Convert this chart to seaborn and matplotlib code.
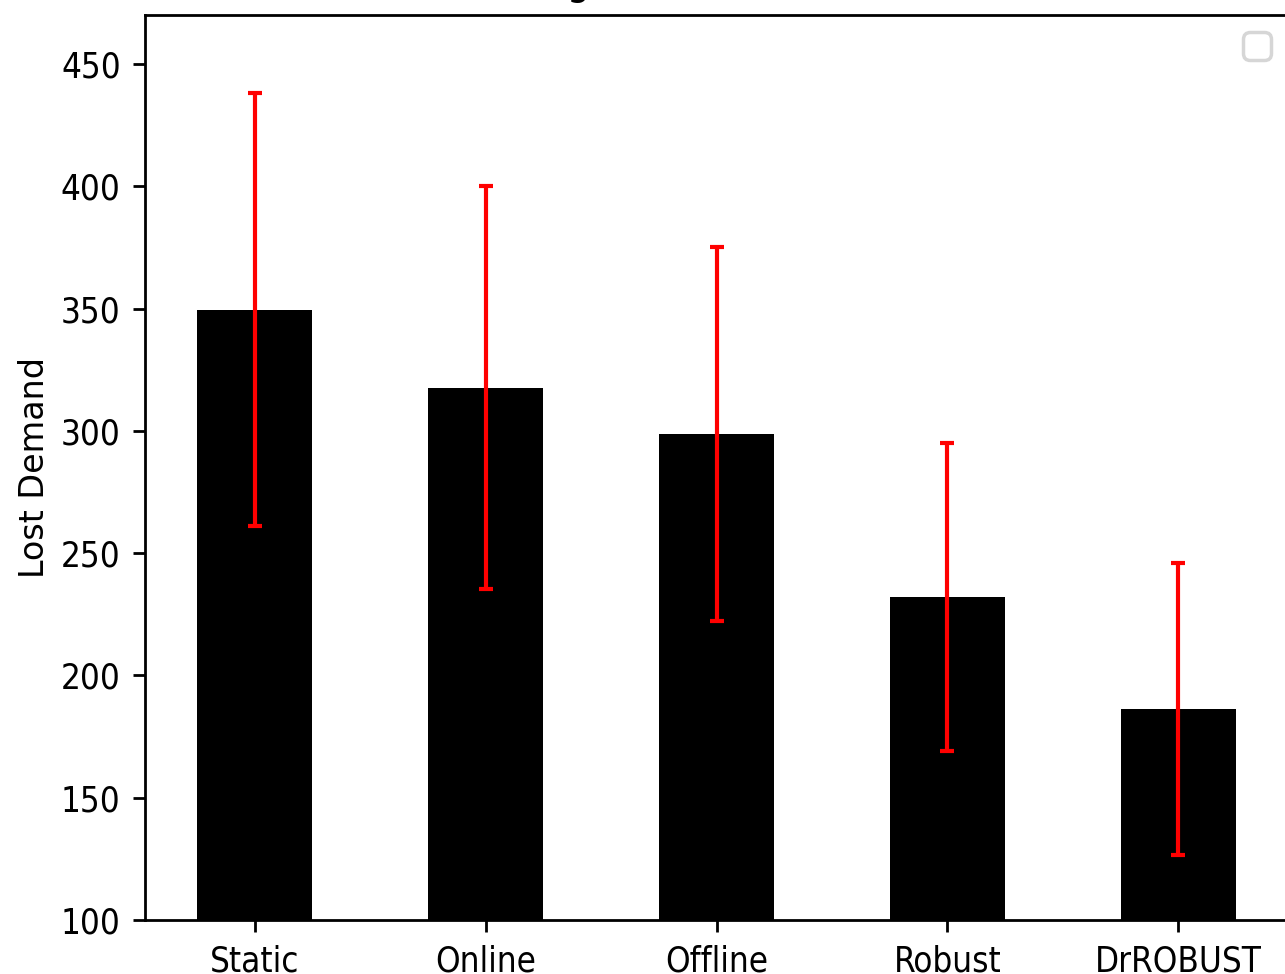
import matplotlib
matplotlib.use("Agg")
import matplotlib.pyplot as plt
import seaborn as sns
import pandas as pd

# Lost demand per policy: mean and standard deviation
policies = ["Static", "Online", "Offline", "Robust", "DrROBUST"]
mean_lost = [349.5, 317.7, 298.6, 232.0, 186.3]
std_lost = [88.5, 82.3, 76.5, 63.0, 59.7]

df = pd.DataFrame({"policy": policies, "lost": mean_lost, "std": std_lost})

plt.rcParams["font.family"] = ["DejaVu Sans"]
plt.rcParams["font.stretch"] = "condensed"

DPI = 250
fig = plt.figure(figsize=(1285 / DPI, 974 / DPI), dpi=DPI)
ax = fig.add_axes([145 / 1285, 54 / 974, (1288 - 145) / 1285, (920 - 15) / 974])

sns.barplot(data=df, x="policy", y="lost", color="black", saturation=1,
            width=0.5, errorbar=None, ax=ax)
ax.errorbar(range(len(policies)), df["lost"], yerr=df["std"], fmt="none",
            ecolor="red", elinewidth=1.2, capsize=2, capthick=1.2)

ax.set_xlim(-0.475, 4.475)
ax.set_ylim(100, 470)
ax.set_xlabel("")
ax.set_ylabel("Lost Demand", fontstretch="normal", fontsize=9.6, labelpad=2.9)
ax.set_title("Average Lost Demand (std)", fontsize=12)
ax.legend(handles=[], loc="upper right")

fig.savefig("out.png", dpi=DPI)
